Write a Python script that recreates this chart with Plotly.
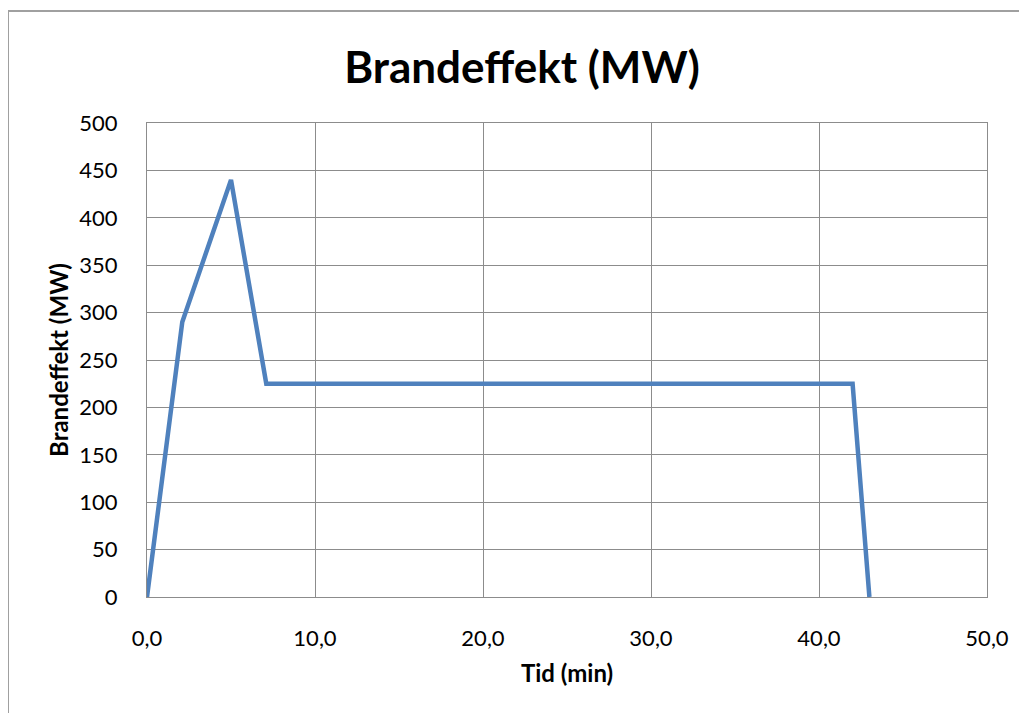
import plotly.graph_objects as go

tid_min = [0.0, 2.1, 5.0, 7.1, 42.0, 43.0]
brandeffekt_mw = [0, 290, 440, 225, 225, 0]
x_ticks = [0, 10, 20, 30, 40, 50]
y_ticks = [0, 50, 100, 150, 200, 250, 300, 350, 400, 450, 500]

OFF = 8  # page body margin
W, H = 1027 - OFF, 713 - OFF
L, T = 147 - OFF, 123 - OFF
pw, ph = 840, 474
R, B = W - L - pw, H - T - ph

fig = go.Figure()
fig.add_trace(go.Scatter(
    x=tid_min, y=brandeffekt_mw, mode="lines",
    line=dict(color="#4f81bd", width=4.5), showlegend=False,
))

grid = "#8c8c8c"
fig.update_layout(
    width=W, height=H,
    margin=dict(l=L, r=R, t=T, b=B),
    paper_bgcolor="white", plot_bgcolor="white",
    separators=",.",
    font=dict(family="Lato", color="#000000", size=22),
    title=dict(text="<b>Brandeffekt (MW)</b>", x=(522 - OFF) / W, xanchor="center",
               y=1 - (68 - OFF) / H, yanchor="middle",
               font=dict(family="Lato", size=44, color="#000000")),
    xaxis=dict(range=[0, 50], tickvals=x_ticks, tickformat=".1f",
               showgrid=True, gridcolor=grid, gridwidth=1,
               showline=True, linecolor=grid, linewidth=1, mirror=True,
               zeroline=False, ticks="", ticklabelstandoff=22,
               title=dict(text="<b>Tid (min)</b>", font=dict(size=24), standoff=14)),
    yaxis=dict(range=[0, 500], tickvals=y_ticks,
               showgrid=True, gridcolor=grid, gridwidth=1,
               showline=True, linecolor=grid, linewidth=1, mirror=True,
               zeroline=False, ticks="", ticklabelstandoff=24,
               title=dict(text="<b>Brandeffekt (MW)</b>", font=dict(size=24), standoff=3)),
    shapes=[
        dict(type="line", xref="paper", yref="paper",
             x0=(8 - 147) / pw, x1=(1040 - 147) / pw,
             y0=1 + (123 - 11) / ph, y1=1 + (123 - 11) / ph,
             line=dict(color="#a0a0a0", width=2)),
        dict(type="line", xref="paper", yref="paper",
             x0=(8 - 147) / pw, x1=(8 - 147) / pw,
             y0=1 + (123 - 11) / ph, y1=-(720 - 597) / ph,
             line=dict(color="#a0a0a0", width=2)),
    ],
)
fig.write_html("out.html")
